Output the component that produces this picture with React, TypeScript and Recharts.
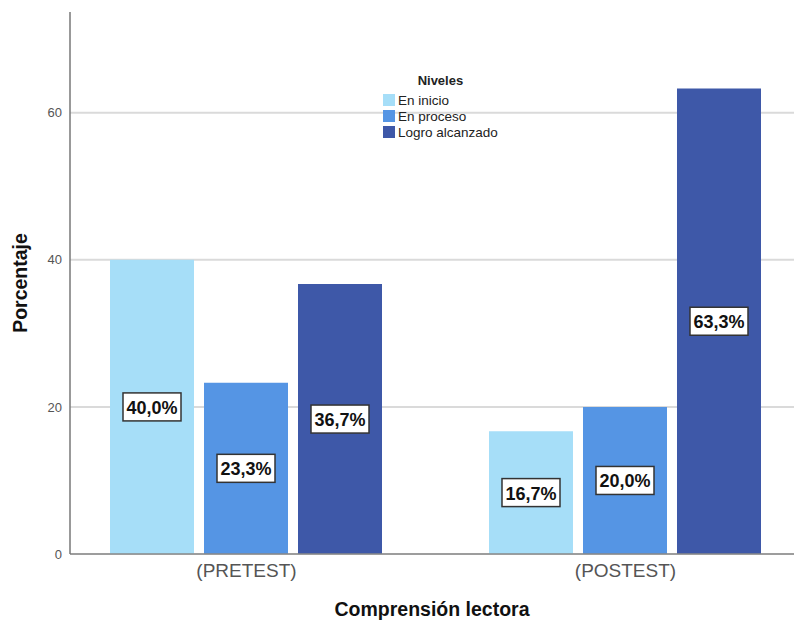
import React from "react";
import {
  BarChart,
  Bar,
  XAxis,
  YAxis,
  CartesianGrid,
  LabelList,
} from "recharts";

const categories = ["(PRETEST)", "(POSTEST)"];
const enInicio = [40.0, 16.7];
const enProceso = [23.3, 20.0];
const logroAlcanzado = [36.7, 63.3];
const yTicks = [0, 20, 40, 60];

const series = [
  { key: "inicio", name: "En inicio", color: "#a6def8" },
  { key: "proceso", name: "En proceso", color: "#5595e4" },
  { key: "logro", name: "Logro alcanzado", color: "#3e58a8" },
];

const data = categories.map((c, i) => ({
  idx: i,
  name: c,
  inicio: enInicio[i],
  proceso: enProceso[i],
  logro: logroAlcanzado[i],
}));

const FONT = "'Liberation Sans', Arial, sans-serif";

const fmt = (v: number) => v.toFixed(1).replace(".", ",") + "%";

// white box with the percentage, centred on the bar
function BoxLabel(props: any) {
  const { x, y, width, height, value } = props;
  const cx = x + width / 2;
  const cy = y + height / 2;
  const w = 58;
  const h = 28;
  return (
    <g>
      <rect
        x={cx - w / 2}
        y={cy - h / 2}
        width={w}
        height={h}
        fill="#ffffff"
        stroke="#333"
        strokeWidth={1.5}
      />
      <text
        x={cx}
        y={cy + 1}
        textAnchor="middle"
        dominantBaseline="central"
        fontFamily={FONT}
        fontWeight="bold"
        fontSize={18}
        fill="#111"
      >
        {fmt(Number(value))}
      </text>
    </g>
  );
}

function NivelesLegend() {
  return (
    <div
      style={{
        position: "absolute",
        left: 383,
        top: 73,
        fontFamily: FONT,
        fontSize: 13.5,
        color: "#222",
      }}
    >
      <div style={{ textAlign: "center", fontWeight: "bold", lineHeight: "16px", fontSize: 13 }}>
        Niveles
      </div>
      <div style={{ marginTop: 3 }}>
        {series.map((s) => (
          <div
            key={s.key}
            style={{ display: "flex", alignItems: "center", height: 16 }}
          >
            <span
              style={{
                display: "inline-block",
                width: 12,
                height: 12,
                background: s.color,
                marginRight: 3,
              }}
            />
            <span>{s.name}</span>
          </div>
        ))}
      </div>
    </div>
  );
}

export default function App() {
  return (
    <div style={{ position: "absolute", left: 0, top: 0, background: "#fff" }}>
      <BarChart
        width={794}
        height={625}
        data={data}
        margin={{ top: 12, right: 0, bottom: 0, left: 0 }}
        barGap={10}
      >
        <CartesianGrid
          vertical={false}
          stroke="#dadada"
          strokeWidth={2}
          syncWithTicks
        />
        <XAxis
          dataKey="idx"
          type="number"
          domain={[-0.4657, 1.4446]}
          allowDataOverflow
          ticks={[0, 1]}
          tickFormatter={(i: number) => categories[i] ?? ""}
          height={71}
          axisLine={{ stroke: "#888", strokeWidth: 1.5 }}
          tickLine={false}
          tick={{ fontFamily: FONT, fontSize: 19, fill: "#555" }}
          tickMargin={4}
          label={{
            value: "Comprensión lectora",
            position: "center",
            dy: 20,
            style: { fontFamily: FONT, fontSize: 19.5, fontWeight: "bold", fill: "#111" },
          }}
        />
        <YAxis
          domain={[0, 73.7]}
          ticks={yTicks}
          width={70}
          allowDataOverflow
          axisLine={{ stroke: "#777", strokeWidth: 1.5 }}
          tickLine={false}
          tick={{ fontFamily: FONT, fontSize: 13, fill: "#555" }}
          tickMargin={2}
          label={{
            value: "Porcentaje",
            angle: -90,
            position: "center",
            dx: -15,
            style: { fontFamily: FONT, fontSize: 19.5, fontWeight: "bold", fill: "#111" },
          }}
        />
        {series.map((s) => (
          <Bar
            key={s.key}
            dataKey={s.key}
            name={s.name}
            fill={s.color}
            barSize={84}
            isAnimationActive={false}
          >
            <LabelList dataKey={s.key} content={<BoxLabel />} />
          </Bar>
        ))}
      </BarChart>
      <NivelesLegend />
    </div>
  );
}
